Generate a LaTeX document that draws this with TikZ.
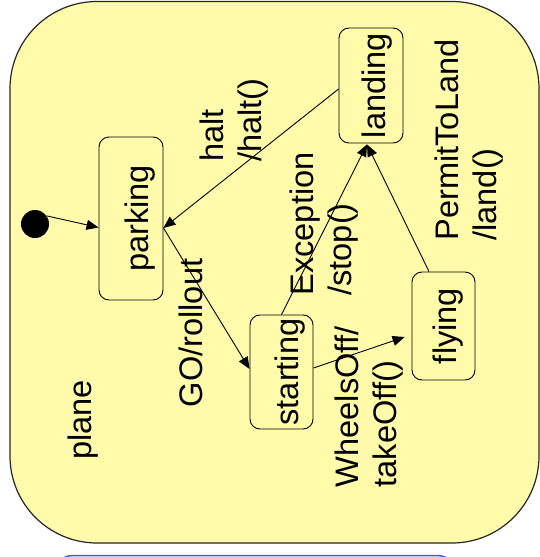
\documentclass[tikz,border=0pt]{standalone}
\usepackage{fontspec}
\setmainfont{Liberation Sans}
\usetikzlibrary{arrows.meta,calc}
\definecolor{planefill}{RGB}{255,251,170}
\definecolor{bluebox}{RGB}{70,90,215}
\begin{document}
\begin{tikzpicture}[x=1pt,y=-1pt,
  txt/.style={font=\fontsize{32.6}{38}\selectfont},
  statebox/.style={txt, draw=black, line width=0.9pt, rounded corners=10pt, rotate=90, inner sep=0pt, text depth=0pt},
  lbl/.style={txt, rotate=90, inner sep=0pt, align=left},
  arr/.style={draw=black, line width=0.9pt, -{Triangle[length=12pt,width=10pt]}}
]
\useasboundingbox (0,0) rectangle (540,557);
\clip (0,0) rectangle (540,557);
% outer composite state
\draw[fill=planefill, draw=black!85, line width=1.2pt, rounded corners=87pt] (10,1.5) rectangle (539,543);
% next box (cut off)
\draw[draw=bluebox, line width=1.5pt, rounded corners=20pt] (53,555.5) rectangle (457,640);
% states
\node[statebox, minimum width=163pt, minimum height=64pt, text height=35pt] (parking) at (131,218.5) {parking};
\node[statebox, minimum width=115pt, minimum height=64pt, text height=29pt] (landing) at (371,85.5) {landing};
\node[statebox, minimum width=114pt, minimum height=63pt, text height=33pt] (starting) at (281.5,372) {starting};
\node[statebox, minimum width=108pt, minimum height=63pt, text height=26pt] (flying) at (443.5,326) {flying};
\node[circle, fill=black, minimum size=28pt, inner sep=0pt] (init) at (35,224) {};
% labels
\node[lbl] (lplane) at (83.5,420) {plane};
\node[lbl] (lgo) at (190.5,333) {GO/rollout};
\node[lbl] (lhalt) at (234,120) {halt\\/halt()};
\node[lbl] (lexc) at (324,224) {Exception\\/stop()};
\node[lbl] (lpermit) at (469,140) {PermitToLand\\/land()};
\node[lbl] (lwheels) at (369.5,407) {WheelsOff/\\takeOff()};
% transitions
\draw[arr] (init.35) -- ([yshift=-9pt]parking.north);
\draw[arr] ([yshift=-3.5pt]landing.north) -- ([yshift=-9.5pt]parking.south);
\draw[arr] ([yshift=-9.5pt]parking.south) -- ([yshift=3pt]starting.north);
\draw[arr] (starting.east) -- ([xshift=-4pt,yshift=-1pt]landing.west);
\draw[arr] ([xshift=-14.5pt]flying.east) -- ([xshift=-4pt,yshift=-1pt]landing.west);
\draw[arr] ([yshift=4pt]starting.south) -- ([xshift=-7pt,yshift=-11pt]flying.north);
\end{tikzpicture}
\end{document}
